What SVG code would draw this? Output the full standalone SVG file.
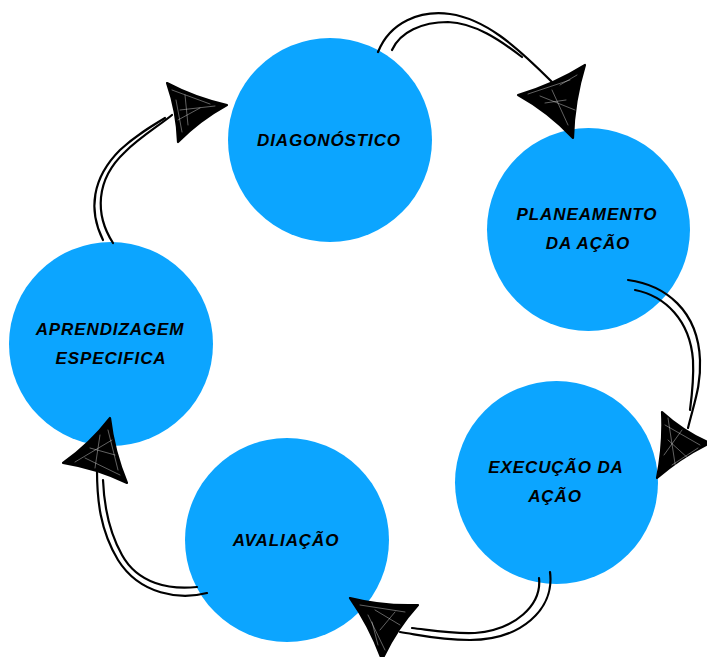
<svg xmlns="http://www.w3.org/2000/svg" width="707" height="657" viewBox="0 0 707 657">
<style>
.node{fill:#0ca5ff}
.lbl{font-family:"Liberation Sans",Arial,sans-serif;font-weight:bold;font-style:italic;font-size:17px;letter-spacing:0.9px;fill:#000;text-anchor:middle}
.ln{fill:none;stroke:#000;stroke-width:2.2;stroke-linecap:round}
.head{fill:#000;stroke:#000;stroke-width:2.2;stroke-linejoin:round}
.scr{fill:none;stroke:#fff;stroke-width:0.7;stroke-linecap:round;opacity:0.55}
</style>
<rect width="707" height="657" fill="#fff"/>
<g id="n-diagnostico">
  <circle class="node" cx="330" cy="140" r="102"/>
  <text class="lbl" x="329" y="146">DIAGONÓSTICO</text>
</g>
<g id="n-planeamento">
  <circle class="node" cx="588.500" cy="229.500" r="101.500"/>
  <text class="lbl" x="587" y="220">PLANEAMENTO</text>
  <text class="lbl" x="588" y="249">DA AÇÃO</text>
</g>
<g id="n-execucao">
  <circle class="node" cx="556.500" cy="482.500" r="101.500"/>
  <text class="lbl" x="556" y="473">EXECUÇÃO DA</text>
  <text class="lbl" x="555" y="502">AÇÃO</text>
</g>
<g id="n-avaliacao">
  <circle class="node" cx="287" cy="540" r="102"/>
  <text class="lbl" x="286" y="546">AVALIAÇÃO</text>
</g>
<g id="n-aprendizagem">
  <circle class="node" cx="111" cy="344" r="102"/>
  <text class="lbl" x="110" y="335">APRENDIZAGEM</text>
  <text class="lbl" x="111" y="364">ESPECIFICA</text>
</g>
<g id="connectors">
  <g id="c1">
    <path class="ln" d="M378,52 C390,22 420,10 450,14 C485,19 515,45 552,82"/>
    <path class="ln" d="M392,50 C400,32 422,22 448,22 C475,23 500,40 522,57"/>
    <path class="head" d="M518,95 Q553.400,84.800 585,65 Q574,100.900 573,138 Q548.900,112.100 518,95 Z"/>
    <path class="scr" d="M528,94 L570,80 M540,96 L575,110 M552,90 L568,125 M560,85 L577,75 M545,103 L566,100"/>
  </g>
  <g id="c2">
    <path class="ln" d="M628,280 C665,285 698,310 700,360 C701,385 695,400 688,428"/>
    <path class="ln" d="M635,290 C665,296 690,320 693,360 C694,380 692,395 690,410"/>
    <path class="head" d="M662,412 Q683.600,431.700 710,443 Q681.700,456.500 657,478 Q663.700,444.800 662,412 Z"/>
    <path class="scr" d="M665,425 L700,445 M668,440 L690,460 M664,455 L682,430 M672,465 L698,448 M668,418 L676,470"/>
  </g>
  <g id="c3">
    <path class="ln" d="M550,572 C555,610 520,640 470,640 C440,640 420,635 400,632"/>
    <path class="ln" d="M539,578 C542,605 515,630 475,633 C450,634 430,630 412,628"/>
    <path class="head" d="M350,598 Q383.800,606.400 418,605 Q395.800,629.600 382,660 Q370.300,627 350,598 Z"/>
    <path class="scr" d="M360,605 L405,612 M368,615 L385,650 M375,610 L400,625 M380,630 L395,612 M372,622 L378,645"/>
  </g>
  <g id="c4">
    <path class="ln" d="M207,593 C180,600 140,595 118,560 C100,530 97,500 97,470"/>
    <path class="ln" d="M197,587 C170,590 138,584 122,555 C108,530 104,505 103,480"/>
    <path class="head" d="M110,418 Q113.900,451.600 127,483 Q96.300,468.400 63,463 Q89.900,444 110,418 Z"/>
    <path class="scr" d="M108,430 L118,470 M75,462 L112,440 M85,458 L120,475 M100,435 L95,468 M90,448 L115,455"/>
  </g>
  <g id="c5">
    <path class="ln" d="M113,243 C95,215 95,180 125,152 C140,137 160,125 172,115"/>
    <path class="ln" d="M103,240 C88,210 92,178 120,150 C135,136 150,127 165,118"/>
    <path class="head" d="M227,105 Q199.500,120.100 178,142 Q177,111.900 167,83 Q195.400,98 227,105 Z"/>
    <path class="scr" d="M172,90 L210,104 M176,100 L182,132 M180,110 L215,106 M185,95 L188,125 M178,120 L200,108"/>
  </g>
</g>
</svg>
